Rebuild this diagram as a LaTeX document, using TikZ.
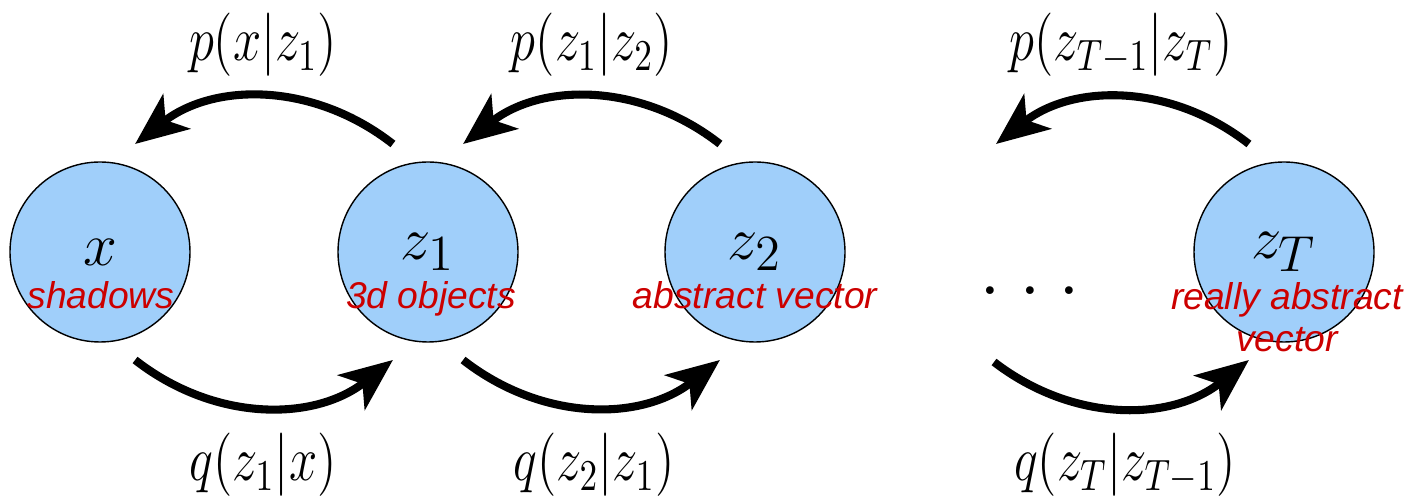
\documentclass[tikz,border=0pt]{standalone}
\usepackage{amsmath}
\usepackage{graphicx}
\usepackage{xcolor}
\usepackage{fontspec}
\newfontfamily\notefont{Liberation Sans}
\usepackage{tikz}
\usetikzlibrary{arrows.meta}

\definecolor{latentblue}{RGB}{160,207,250}
\definecolor{notered}{RGB}{204,0,0}
\newcommand{\tallmath}[1]{\scalebox{1}[1.25]{$#1$}}

\begin{document}
\begin{tikzpicture}
				% Styles
				\tikzstyle{latent} = [draw, thin, fill=latentblue, circle, minimum size=1.8cm, inner sep=0pt, outer sep=6.7pt, font=\fontsize{19}{22}\selectfont]
				\tikzstyle{note} = [text=notered, align=center, anchor=base, inner sep=1pt, font=\notefont\itshape\fontsize{10.6}{12}\selectfont]
				\tikzstyle{prob} = [inner sep=0pt, font=\fontsize{13.7}{16}\selectfont]
				\tikzstyle{arrow} = [line width=2.3pt, -{Stealth[length=15pt, width=12.5pt, inset=4pt]}]

				\useasboundingbox (0,0) rectangle (14.12,4.97);

				% Latent variables (absolute coordinates)
				\node (x) [latent] at (1.00, 2.45) {$x$};
				\node (z1) [latent] at (4.28, 2.45) {$z_1$};
				\node (z2) [latent] at (7.55, 2.45) {$z_2$};
				\node (zT) [latent] at (12.84, 2.45) {$z_T$};
				\node (dots) [anchor=base, inner sep=0pt, font=\fontsize{27}{29}\selectfont] at (10.30, 2.02) {.\kern4.6pt.\kern4.6pt.};
				\coordinate (gapTop) at (9.96, 3.53);
				\coordinate (gapBot) at (9.94, 1.35);

				% Notes under the variables
				\node (xnote) [note] at (1.01, 1.88) {shadows};
				\node (z1note) [note] at (4.31, 1.88) {3d objects};
				\node (z2note) [note] at (7.55, 1.88) {abstract vector};
				\node (zTnote) [note] at (12.87, 1.45) {really abstract\\vector};

				% Generative direction
				\draw [arrow] (z1.108) to [bend right=38] (x.72);
				\draw [arrow] (z2.108) to [bend right=38] (z1.72);
				\draw [arrow] (zT.108) to [bend right=38] (gapTop);
				\node (px) [prob] at (2.63, 4.52) {\tallmath{p(x|z_1)}};
				\node (pz1) [prob] at (5.92, 4.52) {\tallmath{p(z_1|z_2)}};
				\node (pzT) [prob] at (11.21, 4.52) {\tallmath{p(z_{T-1}|z_T)}};

				% Inference direction
				\draw [arrow] (x.-72) to [bend right=38] (z1.-108);
				\draw [arrow] (z1.-72) to [bend right=38] (z2.-108);
				\draw [arrow] (gapBot) to [bend right=38] (zT.-108);
				\node (qz1) [prob] at (2.63, 0.32) {\tallmath{q(z_1|x)}};
				\node (qz2) [prob] at (5.94, 0.32) {\tallmath{q(z_2|z_1)}};
				\node (qzT) [prob] at (11.25, 0.32) {\tallmath{q(z_T|z_{T-1})}};

\end{tikzpicture}
\end{document}
